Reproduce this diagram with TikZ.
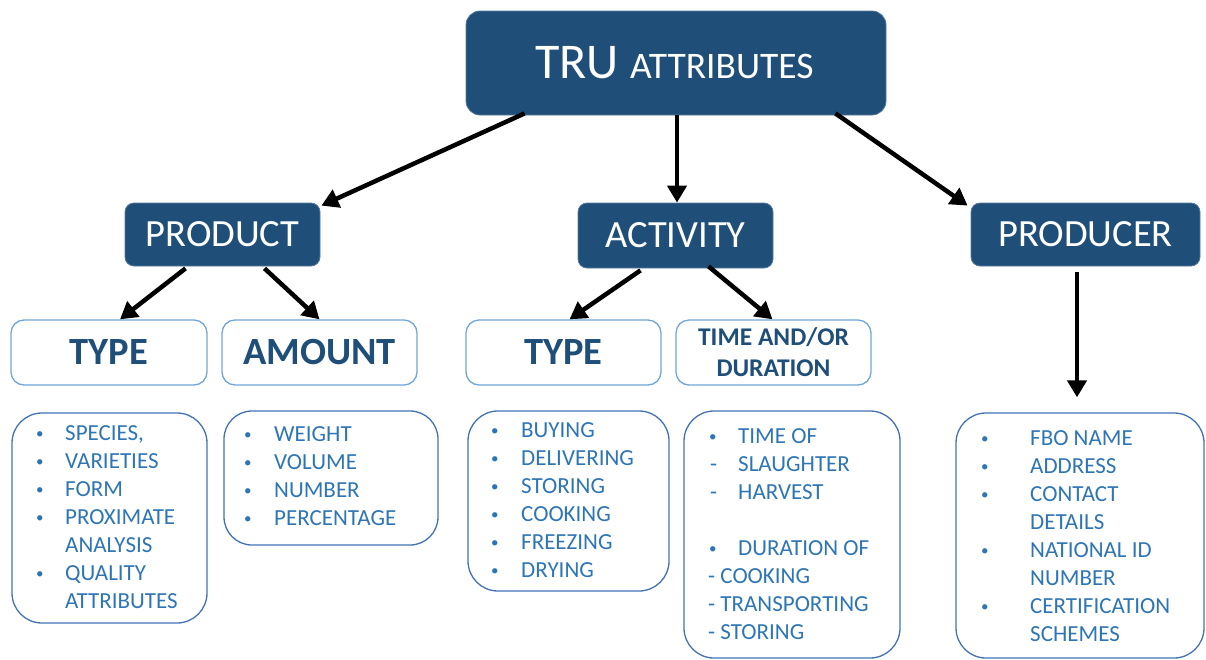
\documentclass[tikz,border=0pt]{standalone}
\usepackage{fontspec}
\setmainfont{Carlito}
\usetikzlibrary{arrows.meta,calc}
\definecolor{dkblue}{HTML}{1F4E79}
\definecolor{ltblue}{HTML}{6FA6DA}
\definecolor{listblue}{HTML}{2E75B6}
\definecolor{listborder}{HTML}{4272B4}
\newcommand{\lbul}{\hspace*{1pt}\raisebox{1.5pt}{\fontsize{15}{15}\selectfont•}}
\begin{document}
\begin{tikzpicture}[x=1pt,y=-1pt,
 topbox/.style={fill=dkblue, draw=dkblue!75!white, line width=0.8pt, rounded corners=9pt, text=white, inner sep=0pt, font=\fontsize{38.5}{42}\selectfont},
 subbox/.style={draw=ltblue, line width=1.3pt, rounded corners=13pt, text=dkblue, inner sep=0pt, font=\bfseries\fontsize{38.5}{42}\selectfont},
 listbox/.style={draw=listborder, line width=1.3pt, rounded corners=30pt, inner sep=0pt},
 listtext/.style={text=listblue, inner sep=0pt, anchor=base west, font=\fontsize{23}{28}\selectfont},
 arr/.style={line width=4.5pt, -{Triangle[length=17pt,width=19pt]}}]
\useasboundingbox (0,0) rectangle (1206,659);

% top
\node[topbox, minimum width=420pt, minimum height=104pt, rounded corners=14pt] (tru) at (676,63)
  {\hspace{-3pt}{\fontsize{50}{55}\selectfont TRU}\hspace{11pt}{\fontsize{37.5}{40}\selectfont ATTRIBUTES}};

% level 1
\node[topbox, minimum width=195pt, minimum height=63pt] (product) at (222.5,234.5) {PRODUCT};
\node[topbox, minimum width=195pt, minimum height=65pt] (activity) at (675.5,235.5) {ACTIVITY};
\node[topbox, minimum width=229pt, minimum height=63pt] (producer) at (1085.5,234.5) {PRODUCER};

% level 2
\node[subbox, minimum width=196pt, minimum height=65pt] (type1) at (109,352.5) {TYPE};
\node[subbox, minimum width=195pt, minimum height=65pt] (amount) at (319.5,352.5) {AMOUNT};
\node[subbox, minimum width=195pt, minimum height=65pt] (type2) at (563.5,352.5) {TYPE};
\node[subbox, minimum width=195pt, minimum height=65pt, align=center, font=\bfseries\fontsize{25.5}{31}\selectfont] (time) at (773.5,352.5) {TIME AND/OR\\DURATION};

% level 3 boxes
\node[listbox, minimum width=195pt, minimum height=210pt] (b1) at (109.5,518) {};
\node[listbox, minimum width=214pt, minimum height=134pt, rounded corners=28pt] (b2) at (331,478) {};
\node[listbox, minimum width=201pt, minimum height=180pt] (b3) at (568.5,501) {};
\node[listbox, minimum width=216pt, minimum height=247pt] (b4) at (792,534.5) {};
\node[listbox, minimum width=248pt, minimum height=245pt] (b5) at (1080,535.5) {};

% list texts
\node[listtext] (t1) at (35,440) {\begin{tabular}[t]{@{}p{30pt}@{}l@{}}
\lbul & SPECIES,\\
\lbul & VARIETIES\\
\lbul & FORM\\
\lbul & PROXIMATE\\
  & ANALYSIS\\
\lbul & QUALITY\\
  & ATTRIBUTES
\end{tabular}};

\node[listtext] (t2) at (243,441) {\begin{tabular}[t]{@{}p{31pt}@{}l@{}}
\lbul & WEIGHT\\
\lbul & VOLUME\\
\lbul & NUMBER\\
\lbul & PERCENTAGE
\end{tabular}};

\node[listtext] (t3) at (490,437) {\begin{tabular}[t]{@{}p{31pt}@{}l@{}}
\lbul & BUYING\\
\lbul & DELIVERING\\
\lbul & STORING\\
\lbul & COOKING\\
\lbul & FREEZING\\
\lbul & DRYING
\end{tabular}};

\node[listtext] (t4) at (708,443) {\begin{tabular}[t]{@{}p{30pt}@{}l@{}}
\lbul & TIME OF\\
\hspace{2pt}- & SLAUGHTER\\
\hspace{2pt}- & HARVEST\\
 & \\
\lbul & DURATION OF\\
\multicolumn{2}{@{}l@{}}{- COOKING}\\
\multicolumn{2}{@{}l@{}}{- TRANSPORTING}\\
\multicolumn{2}{@{}l@{}}{- STORING}
\end{tabular}};

\node[listtext] (t5) at (980,445) {\begin{tabular}[t]{@{}p{50pt}@{}l@{}}
\lbul & FBO NAME\\
\lbul & ADDRESS\\
\lbul & CONTACT\\
  & DETAILS\\
\lbul & NATIONAL ID\\
  & NUMBER\\
\lbul & CERTIFICATION\\
  & SCHEMES
\end{tabular}};

% arrows
\draw[arr] ([xshift=59pt,yshift=2pt]tru.south west) -- ([xshift=1pt,yshift=-3pt]product.north east);
\draw[arr] ([xshift=1pt]tru.south) -- ([xshift=1pt]tru.south |- activity.north);
\draw[arr] ([xshift=-51pt,yshift=2pt]tru.south east) -- ([xshift=-3pt,yshift=-3pt]producer.north west);
\draw[arr] ([xshift=-37pt,yshift=-2pt]product.south) -- ([xshift=11pt]type1.north);
\draw[arr] ([xshift=42pt,yshift=-2pt]product.south) -- ([xshift=0pt]amount.north);
\draw[arr] ([xshift=-35pt,yshift=-2pt]activity.south) -- ([xshift=6pt]type2.north);
\draw[arr] ([xshift=33pt,yshift=2pt]activity.south) -- ([xshift=-1pt]time.north);
\draw[arr] ([xshift=-8.5pt,yshift=-6pt]producer.south) -- ([xshift=-3pt,yshift=15pt]b5.north);
\end{tikzpicture}
\end{document}
